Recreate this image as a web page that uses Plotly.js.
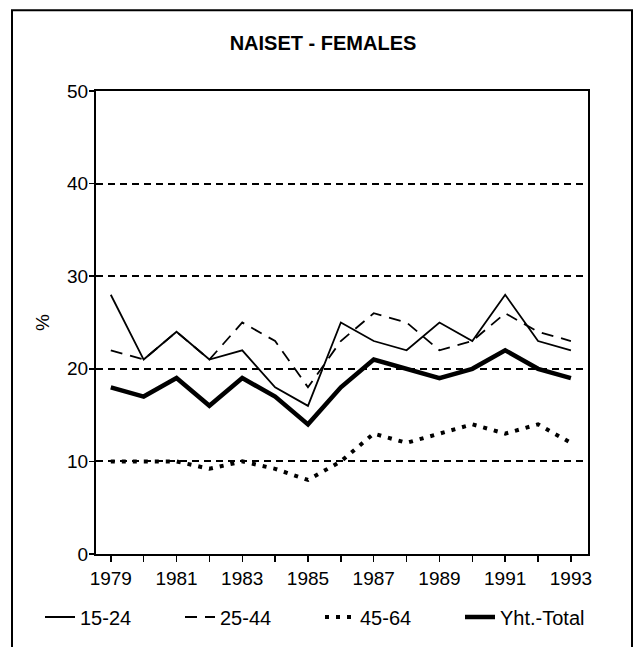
<!DOCTYPE html>
<html>
<head>
<meta charset="utf-8">
<script src="https://cdn.plot.ly/plotly-3.0.1.min.js"></script>
<style>html,body{margin:0;padding:0;background:#fff;}#chart{width:637px;height:647px;}</style>
</head>
<body>
<div id="chart"></div>
<script>
const years = [1979,1980,1981,1982,1983,1984,1985,1986,1987,1988,1989,1990,1991,1992,1993];
const tickLabels = ['1979','','1981','','1983','','1985','','1987','','1989','','1991','','1993'];
const seriesNames = ['15-24','25-44','45-64','Yht.-Total'];
const age15_24 = [28,21,24,21,22,18,16,25,23,22,25,23,28,23,22];
const age25_44 = [22,21,24,21,25,23,18,23,26,25,22,23,26,24,23];
const age45_64 = [10,10,10,9.2,10,9.2,8,10,13,12,13,14,13,14,12];
const total    = [18,17,19,16,19,17,14,18,21,20,19,20,22,20,19];

const FONT = 'Liberation Sans, Arial, Helvetica, sans-serif';
const traces = [
  {x: years, y: age15_24, name: seriesNames[0], mode: 'lines', line: {color: '#000', width: 1.8}},
  {x: years, y: age25_44, name: seriesNames[1], mode: 'lines', line: {color: '#000', width: 1.8, dash: '12px,8px'}},
  {x: years, y: age45_64, name: seriesNames[2], mode: 'lines', line: {color: '#000', width: 4, dash: '4px,7px'}},
  {x: years, y: total,    name: seriesNames[3], mode: 'lines', line: {color: '#000', width: 4.5}}
];

const L = 96, R = 49, T = 91, B = 92;
const pw = 637 - L - R, ph = 647 - T - B;
const px = v => (v - L) / pw;
const py = v => (647 - B - v) / ph;

const layout = {
  width: 637, height: 647,
  margin: {l: L, r: R, t: T, b: B, pad: 0},
  paper_bgcolor: '#fff', plot_bgcolor: '#fff',
  font: {family: FONT, size: 19, color: '#000'},
  title: {text: '<b>NAISET - FEMALES</b>', font: {family: FONT, size: 20, color: '#000'},
          xref: 'paper', x: px(323), xanchor: 'center', yref: 'container', y: 1 - 43/647, yanchor: 'middle'},
  showlegend: true,
  legend: {orientation: 'h', x: px(40), xanchor: 'left', y: py(617), yanchor: 'middle',
           entrywidth: 95, entrywidthmode: 'pixels', bgcolor: 'rgba(0,0,0,0)',
           font: {family: FONT, size: 20, color: '#000'}, traceorder: 'normal'},
  xaxis: {range: [1978.55, 1993.52], tickvals: years, ticktext: tickLabels,
          ticks: 'outside', ticklen: 6, tickwidth: 1.5, tickcolor: '#000',
          showline: true, linecolor: '#000', linewidth: 2, mirror: true,
          showgrid: false, zeroline: false, fixedrange: true, automargin: false,
          tickfont: {family: FONT, size: 19, color: '#000'}},
  yaxis: {range: [0, 50], tickvals: [0,10,20,30,40,50],
          ticks: 'outside', ticklen: 5, tickwidth: 1.5, tickcolor: '#000',
          showline: true, linecolor: '#000', linewidth: 2, mirror: true,
          showgrid: true, gridcolor: '#000', gridwidth: 2, griddash: '7px,5px',
          zeroline: false, fixedrange: true, automargin: false, ticklabelstandoff: -3,
          tickfont: {family: FONT, size: 19, color: '#000'},
          title: {text: '%', standoff: 12, font: {family: FONT, size: 19, color: '#000'}}},
  shapes: [
    {type: 'rect', xref: 'paper', yref: 'paper', x0: px(12), x1: px(632), y0: py(660), y1: py(10),
     line: {color: '#000', width: 2}, fillcolor: 'rgba(0,0,0,0)', layer: 'below'}
  ]
};

Plotly.newPlot('chart', traces, layout, {staticPlot: true, displayModeBar: false});
</script>
</body>
</html>
